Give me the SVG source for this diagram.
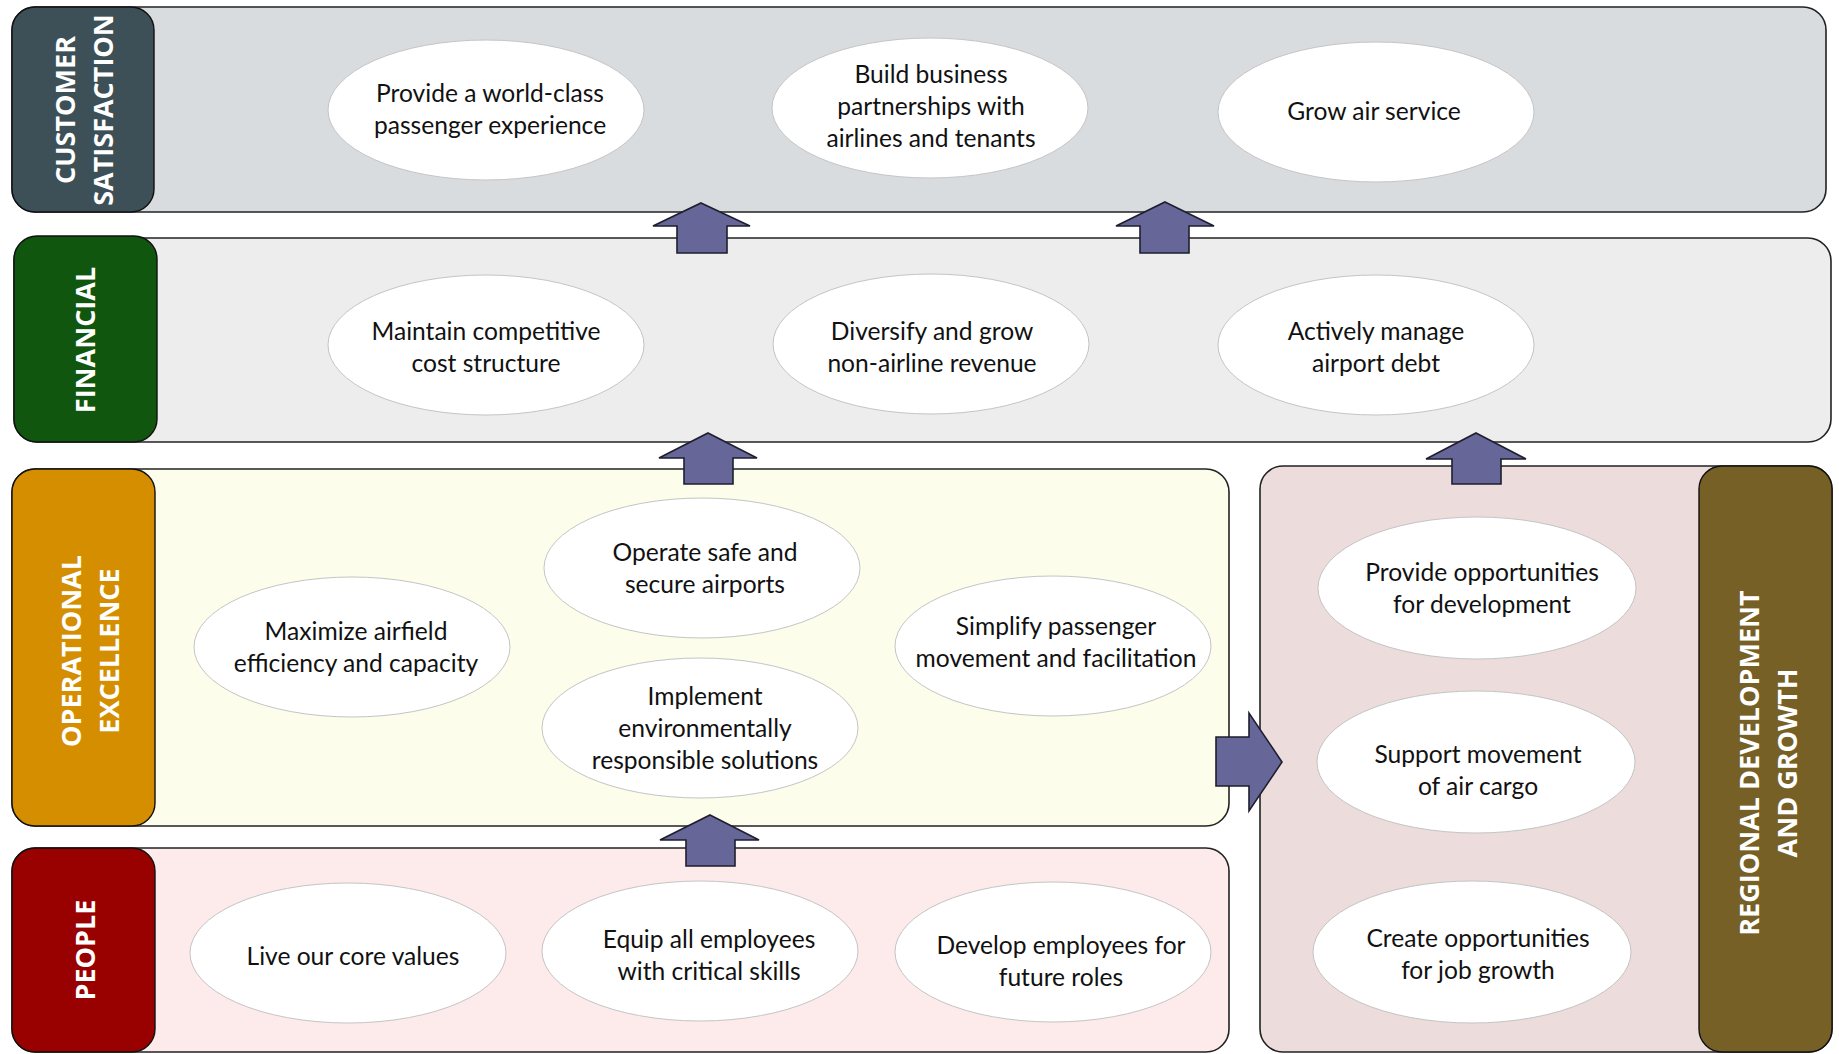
<svg xmlns="http://www.w3.org/2000/svg" width="1839" height="1054" viewBox="0 0 1839 1054">
<style>
.band{stroke:#222;stroke-width:1.6}
.lab{stroke:#111;stroke-width:1.4}
.ell{fill:#fff;stroke:#c4c4c4;stroke-width:1}
.t{font-family:Lato,"Open Sans",sans-serif;font-size:24.6px;fill:#111;text-anchor:middle;dominant-baseline:central}
.h{font-family:"Open Sans","DejaVu Sans",sans-serif;font-weight:bold;font-size:27px;fill:#fff;text-anchor:middle;dominant-baseline:central}
.arr{fill:#666699;stroke:#1e1e2e;stroke-width:1.6;stroke-linejoin:miter}
</style>
<rect width="1839" height="1054" fill="#fff"/>
<g id="band-customer">
<rect class="band" x="12" y="7" width="1814" height="205" rx="23" fill="#d9dcdf"/>
<rect class="lab" x="12" y="7" width="142" height="205" rx="23" fill="#3d4f57"/>
<text class="h" transform="translate(83,110) rotate(-90)"><tspan x="0" y="-19">CUSTOMER</tspan><tspan x="0" y="19">SATISFACTION</tspan></text>
</g>
<g id="band-financial">
<rect class="band" x="14" y="238" width="1817" height="204" rx="23" fill="#ededed"/>
<rect class="lab" x="14" y="236" width="143" height="206" rx="23" fill="#10560f"/>
<text class="h" transform="translate(84,340) rotate(-90)"><tspan x="0" y="0">FINANCIAL</tspan></text>
</g>
<g id="band-operational">
<rect class="band" x="12" y="469" width="1217" height="357" rx="23" fill="#fdfdec"/>
<rect class="lab" x="12" y="469" width="143" height="357" rx="23" fill="#d48e00"/>
<text class="h" transform="translate(89,651) rotate(-90)"><tspan x="0" y="-19">OPERATIONAL</tspan><tspan x="0" y="19">EXCELLENCE</tspan></text>
</g>
<g id="band-people">
<rect class="band" x="12" y="848" width="1217" height="204" rx="23" fill="#fdebeb"/>
<rect class="lab" x="12" y="848" width="143" height="204" rx="23" fill="#990000"/>
<text class="h" transform="translate(84,950) rotate(-90)"><tspan x="0" y="0">PEOPLE</tspan></text>
</g>
<g id="band-regional">
<rect class="band" x="1260" y="466" width="572" height="586" rx="23" fill="#ecdcdc"/>
<rect class="lab" x="1699" y="466" width="133" height="586" rx="23" fill="#766026"/>
<text class="h" transform="translate(1767,763) rotate(-90)"><tspan x="0" y="-19">REGIONAL DEVELOPMENT</tspan><tspan x="0" y="19">AND GROWTH</tspan></text>
</g>
<g id="connectors">
<polygon class="arr" points="701,203 750,226 727,226 727,253 677,253 677,226 653,226"/>
<polygon class="arr" points="1165,202 1214,226 1189,226 1189,253 1140,253 1140,226 1116,226"/>
<polygon class="arr" points="708,433 757,458 733,458 733,484 684,484 684,458 659,458"/>
<polygon class="arr" points="1476,433 1526,459 1501,459 1501,484 1452,484 1452,459 1426,459"/>
<polygon class="arr" points="710,815 759,840 735,840 735,866 686,866 686,840 660,840"/>
<polygon class="arr" points="1282,762 1249,811 1249,786 1216,786 1216,737 1249,737 1249,713"/>
</g>
<g id="n-world-class"><ellipse class="ell" cx="486" cy="110" rx="158" ry="70"/><text class="t" x="486"><tspan x="490" y="92">Provide a world-class</tspan><tspan x="490" y="124">passenger experience</tspan></text></g>
<g id="n-partnerships"><ellipse class="ell" cx="930" cy="108" rx="158" ry="70"/><text class="t"><tspan x="931" y="73">Build business</tspan><tspan x="931" y="105">partnerships with</tspan><tspan x="931" y="137">airlines and tenants</tspan></text></g>
<g id="n-air-service"><ellipse class="ell" cx="1376" cy="112" rx="158" ry="70"/><text class="t"><tspan x="1374" y="110">Grow air service</tspan></text></g>
<g id="n-cost"><ellipse class="ell" cx="486" cy="345" rx="158" ry="70"/><text class="t"><tspan x="486" y="330">Maintain competitive</tspan><tspan x="486" y="362">cost structure</tspan></text></g>
<g id="n-revenue"><ellipse class="ell" cx="931" cy="344" rx="158" ry="70"/><text class="t"><tspan x="932" y="330">Diversify and grow</tspan><tspan x="932" y="362">non-airline revenue</tspan></text></g>
<g id="n-debt"><ellipse class="ell" cx="1376" cy="345" rx="158" ry="70"/><text class="t"><tspan x="1376" y="330">Actively manage</tspan><tspan x="1376" y="362">airport debt</tspan></text></g>
<g id="n-safe"><ellipse class="ell" cx="702" cy="568" rx="158" ry="70"/><text class="t"><tspan x="705" y="551">Operate safe and</tspan><tspan x="705" y="583">secure airports</tspan></text></g>
<g id="n-airfield"><ellipse class="ell" cx="352" cy="647" rx="158" ry="70"/><text class="t"><tspan x="356" y="630">Maximize airfield</tspan><tspan x="356" y="662">efficiency and capacity</tspan></text></g>
<g id="n-simplify"><ellipse class="ell" cx="1053" cy="646" rx="158" ry="70"/><text class="t"><tspan x="1056" y="625">Simplify passenger</tspan><tspan x="1056" y="657">movement and facilitation</tspan></text></g>
<g id="n-environment"><ellipse class="ell" cx="700" cy="728" rx="158" ry="70"/><text class="t"><tspan x="705" y="695">Implement</tspan><tspan x="705" y="727">environmentally</tspan><tspan x="705" y="759">responsible solutions</tspan></text></g>
<g id="n-values"><ellipse class="ell" cx="348" cy="953" rx="158" ry="70"/><text class="t"><tspan x="353" y="955">Live our core values</tspan></text></g>
<g id="n-skills"><ellipse class="ell" cx="700" cy="951" rx="158" ry="70"/><text class="t"><tspan x="709" y="938">Equip all employees</tspan><tspan x="709" y="970">with critical skills</tspan></text></g>
<g id="n-future"><ellipse class="ell" cx="1053" cy="952" rx="158" ry="70"/><text class="t"><tspan x="1061" y="944">Develop employees for</tspan><tspan x="1061" y="976">future roles</tspan></text></g>
<g id="n-development"><ellipse class="ell" cx="1477" cy="588" rx="159" ry="71"/><text class="t"><tspan x="1482" y="571">Provide opportunities</tspan><tspan x="1482" y="603">for development</tspan></text></g>
<g id="n-cargo"><ellipse class="ell" cx="1476" cy="762" rx="159" ry="71"/><text class="t"><tspan x="1478" y="753">Support movement</tspan><tspan x="1478" y="785">of air cargo</tspan></text></g>
<g id="n-jobs"><ellipse class="ell" cx="1472" cy="952" rx="159" ry="71"/><text class="t"><tspan x="1478" y="937">Create opportunities</tspan><tspan x="1478" y="969">for job growth</tspan></text></g>
</svg>
